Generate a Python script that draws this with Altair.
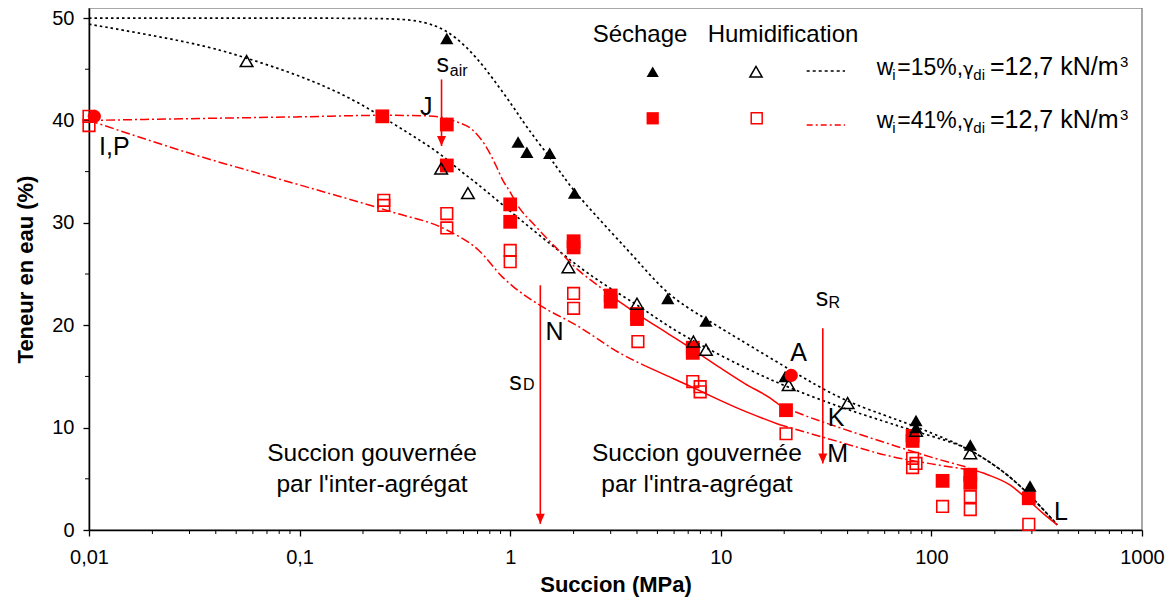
import altair as alt
import pandas as pd

FONT = "Liberation Sans"
RED = "#ff0000"

# ---------------- ticks ----------------
X_TICKS = [0.01, 0.1, 1, 10, 100, 1000]
X_MINOR = [m * d for d in [0.01, 0.1, 1, 10, 100] for m in range(2, 10)]
Y_TICKS = [0, 10, 20, 30, 40, 50]
Y_MINOR = [5, 15, 25, 35, 45]

# ---------------- measured points ----------------
# Sechage, wi=15% : filled black triangles
DRY15_X = [0.5, 1.09, 1.2, 1.54, 2.02, 5.6, 8.5, 20.2, 84.5, 84.5, 153, 294]
DRY15_Y = [48.0, 37.9, 36.9, 36.8, 32.9, 22.6, 20.4, 15.0, 10.7, 10.0, 8.3, 4.3]
# Humidification, wi=15% : open black triangles
WET15_X = [0.056, 0.47, 0.63, 1.89, 4.0, 7.41, 8.5, 21.0, 40.0, 84.5, 153]
WET15_Y = [45.8, 35.3, 32.9, 25.65, 22.1, 18.4, 17.6, 14.16, 12.4, 9.7, 7.5]
# Sechage, wi=41% : filled red squares
DRY41_X = [0.247, 0.5, 0.5, 1.0, 1.0, 2.0, 2.0, 3.0, 3.0, 4.0, 4.0, 7.36, 7.36,
           20.4, 81.4, 81.4, 113, 153, 153, 290]
DRY41_Y = [40.4, 39.6, 35.6, 31.8, 30.1, 28.2, 27.6, 22.9, 22.3, 21.1, 20.6, 17.8, 17.3,
           11.7, 9.2, 8.7, 4.8, 5.4, 4.6, 3.1]
# Humidification, wi=41% : open red squares
WET41_X = [0.01, 0.01, 0.251, 0.251, 0.5, 0.5, 1.0, 1.0, 2.0, 2.0, 4.04, 7.36, 7.98, 7.98,
           20.4, 81.4, 81.4, 84.5, 113, 153, 153, 290]
WET41_Y = [40.4, 39.5, 32.2, 31.7, 30.9, 29.5, 27.3, 26.2, 23.1, 21.65, 18.4, 14.5, 14.0, 13.5,
           9.4, 7.0, 6.1, 6.5, 2.3, 3.25, 2.0, 0.55]
# initial state I,P and point A : red circles
CIRC_X = [0.0106, 21.6]
CIRC_Y = [40.4, 15.1]

# ---------------- fitted curves ----------------
C1_X = [0.01, 0.2, 0.34, 0.445, 0.55, 0.69, 0.827, 1.03, 1.19, 1.54, 1.78, 2.02, 3.07, 4.11,
        5.6, 8.5, 11.4, 21.9, 36.6, 60, 84.5, 120, 152, 216, 289, 396]
C1_Y = [50.0, 50.0, 49.9, 49.3, 48.2, 46.2, 44.1, 41.4, 39.4, 36.4, 34.6, 33.0, 28.9, 26.1,
        22.9, 20.6, 19.0, 15.5, 12.8, 11.2, 10.1, 8.8, 7.9, 5.9, 3.6, 0.5]
C2_X = [0.01, 0.0335, 0.056, 0.1, 0.173, 0.288, 0.37, 0.47, 0.6, 0.665, 1.03, 1.71, 2.56,
        3.96, 5.5, 7.92, 13.7, 20.4, 36.6, 60, 84.5, 120, 152, 216, 289, 396]
C2_Y = [49.4, 47.5, 46.1, 44.4, 42.3, 39.5, 38.1, 36.7, 34.8, 34.2, 30.9, 27.2, 24.4,
        22.1, 20.0, 18.1, 15.6, 14.0, 12.0, 10.6, 9.6, 8.7, 7.9, 5.9, 3.6, 0.5]

RA1_X = [0.01, 0.05, 0.1, 0.25, 0.4, 0.5, 0.55, 0.66, 0.77, 0.86, 0.92, 1.0, 1.07, 1.33,
         1.7, 2.1, 2.64, 3.0]
RA1_Y = [40.0, 40.25, 40.35, 40.5, 40.45, 40.2, 39.9, 39.1, 37.4, 35.5, 34.2, 33.0, 31.9, 29.6,
         27.3, 25.4, 23.8, 22.9]
RA2_X = [3.0, 4.3, 5.5, 7.4, 10, 13, 17.1, 19]
RA2_Y = [22.9, 20.7, 19.3, 17.6, 15.8, 14.3, 12.9, 12.2]
RA3_X = [19, 23.5, 36.6, 61, 104, 150]
RA3_Y = [12.2, 11.4, 10.0, 8.5, 7.0, 6.1]

RB1_X = [0.01, 0.0335, 0.1, 0.27, 0.5, 0.71, 0.92, 1.03, 1.37, 2.1, 3.3, 4.4]
RB1_Y = [40.0, 36.5, 33.7, 31.1, 29.3, 27.3, 24.7, 23.8, 22.0, 19.9, 17.3, 16.0]
RB2_X = [4.4, 5.5, 7.4, 9.15, 12, 18.9]
RB2_Y = [16.0, 15.1, 13.9, 13.0, 11.9, 10.3]
RB3_X = [18.9, 36.6, 61, 104, 150]
RB3_Y = [10.3, 8.6, 7.3, 6.4, 5.9]

RC_X = [150, 185, 236, 289, 340, 396]
RC_Y = [6.0, 5.4, 4.4, 2.9, 1.6, 0.5]

# ---------------- arrows ----------------
ARR_X = [0.472, 1.39, 30.5]
ARR_Y1 = [44.0, 23.9, 19.7]
ARR_Y2 = [37.5, 0.6, 6.5]

# ---------------- annotations ----------------
ANN_T = ["J", "I,P", "N", "A", "K", "M", "L", "s", "s", "s"]
ANN_X = [0.399, 0.0132, 1.623, 23.4, 35.3, 35.9, 412, 0.4787, 1.06, 30.26]
ANN_Y = [41.34, 37.4, 19.37, 17.26, 10.91, 7.42, 1.79, 45.49, 14.48, 22.63]
SUB_T = ["air", "D", "R"]
SUB_X = [0.5694, 1.224, 34.61]
SUB_Y = [44.82, 14.16, 22.14]
REG_T = ["Succion gouvernée", "par l'inter-agrégat", "Succion gouvernée", "par l'intra-agrégat"]
REG_X = [0.2208, 0.2208, 7.70, 7.70]
REG_Y = [7.42, 4.39, 7.42, 4.39]

# ---------------- scales / axes ----------------
XS = alt.Scale(type="log", domain=[0.01, 1000], nice=False)
YS = alt.Scale(domain=[0, 50.98], nice=False, zero=False)
XAX = alt.Axis(values=X_TICKS, labelExpr="replace(format(datum.value, '~g'), '.', ',')",
               title="Succion (MPa)", grid=False, tickSize=6, labelPadding=11,
               titlePadding=7, labelFlush=False)
YAX = alt.Axis(values=Y_TICKS, title="Teneur en eau (%)", grid=False, tickSize=6,
               labelPadding=9, titlePadding=14)


def X():
    return alt.X("x:Q", scale=XS, axis=XAX)


def Y():
    return alt.Y("y:Q", scale=YS, axis=YAX)


def pts(xs, ys):
    return pd.DataFrame({"x": xs, "y": ys})


def segs(d):
    frames = []
    for name, (xs, ys) in d.items():
        frames.append(pd.DataFrame({"x": xs, "y": ys, "seg": name, "i": list(range(len(xs)))}))
    return pd.concat(frames, ignore_index=True)


def lines(df, color, dash, width, interp="monotone"):
    kw = dict(color=color, strokeWidth=width, interpolate=interp)
    if dash:
        kw["strokeDash"] = dash
    return alt.Chart(df).mark_line(**kw).encode(x=X(), y=Y(), detail="seg:N", order="i:Q")


layers = []
# minor ticks
layers.append(alt.Chart(pd.DataFrame({"x": X_MINOR})).mark_rule(color="black", strokeWidth=1)
              .encode(x=X(), y=alt.value(522), y2=alt.value(526)))
layers.append(alt.Chart(pd.DataFrame({"y": Y_MINOR})).mark_rule(color="black", strokeWidth=1)
              .encode(y=Y(), x=alt.value(0), x2=alt.value(-4)))

layers.append(lines(segs({"c1": (C1_X, C1_Y), "c2": (C2_X, C2_Y)}), "black", [2.5, 3], 1.7,
                    "basis"))
layers.append(lines(segs({"a1": (RA1_X, RA1_Y), "a3": (RA3_X, RA3_Y),
                          "b1": (RB1_X, RB1_Y), "b3": (RB3_X, RB3_Y)}), RED, [9, 3, 2, 3], 1.5))
layers.append(lines(segs({"a2": (RA2_X, RA2_Y), "b2": (RB2_X, RB2_Y), "c": (RC_X, RC_Y)}),
                    RED, None, 1.5))

# markers
layers.append(alt.Chart(pts(WET41_X, WET41_Y)).mark_point(
    shape="square", filled=False, size=135, strokeWidth=1.6, color=RED, opacity=1)
    .encode(x=X(), y=Y()))
layers.append(alt.Chart(pts(DRY41_X, DRY41_Y)).mark_point(
    shape="square", filled=True, size=190, color=RED, opacity=1).encode(x=X(), y=Y()))
layers.append(alt.Chart(pts(WET15_X, WET15_Y)).mark_point(
    shape="triangle-up", filled=False, size=160, strokeWidth=1.5, color="black", opacity=1)
    .encode(x=X(), y=Y()))
layers.append(alt.Chart(pts(DRY15_X, DRY15_Y)).mark_point(
    shape="triangle-up", filled=True, size=175, color="black", opacity=1).encode(x=X(), y=Y()))
layers.append(alt.Chart(pts(CIRC_X, CIRC_Y)).mark_point(
    shape="circle", filled=True, size=175, color=RED, opacity=1).encode(x=X(), y=Y()))

# arrows
arr = pd.DataFrame({"x": ARR_X, "y": ARR_Y1, "y2": ARR_Y2})
layers.append(alt.Chart(arr).mark_rule(color=RED, strokeWidth=1.6)
              .encode(x=X(), y=Y(), y2="y2:Q"))
layers.append(alt.Chart(pd.DataFrame({"x": ARR_X, "y": ARR_Y2})).mark_point(
    shape="M-0.9,-2L0.9,-2L0,0Z", filled=True, size=100, color=RED, opacity=1)
    .encode(x=X(), y=Y()))

# annotations
layers.append(alt.Chart(pd.DataFrame({"x": ANN_X, "y": ANN_Y, "t": ANN_T})).mark_text(
    fontSize=25, color="black", align="center", baseline="middle").encode(x=X(), y=Y(), text="t:N"))
layers.append(alt.Chart(pd.DataFrame({"x": SUB_X, "y": SUB_Y, "t": SUB_T})).mark_text(
    fontSize=16, color="black", align="center", baseline="middle").encode(x=X(), y=Y(), text="t:N"))
layers.append(alt.Chart(pd.DataFrame({"x": REG_X, "y": REG_Y, "t": REG_T})).mark_text(
    fontSize=24.5, color="black", align="center", baseline="middle").encode(x=X(), y=Y(), text="t:N"))

# ---------------- legend (pixel layout) ----------------
one = pd.DataFrame({"a": [0]})


def ltext(txt, px, py, size, align="left", font=FONT):
    return alt.Chart(one).mark_text(text=txt, fontSize=size, color="black", align=align, font=font,
                                    baseline="alphabetic").encode(x=alt.value(px), y=alt.value(py))


layers.append(ltext("Séchage", 551, 33.7, 24, "center"))
layers.append(ltext("Humidification", 694, 33.7, 24, "center"))
layers.append(alt.Chart(one).mark_point(shape="triangle-up", filled=True, size=150, color="black",
                                        opacity=1).encode(x=alt.value(563.7), y=alt.value(63.7)))
layers.append(alt.Chart(one).mark_point(shape="triangle-up", filled=False, size=150, strokeWidth=1.5,
                                        color="black", opacity=1).encode(x=alt.value(667), y=alt.value(63.7)))
layers.append(alt.Chart(one).mark_point(shape="square", filled=True, size=150, color=RED,
                                        opacity=1).encode(x=alt.value(563.7), y=alt.value(110.3)))
layers.append(alt.Chart(one).mark_point(shape="square", filled=False, size=120, strokeWidth=1.5,
                                        color=RED, opacity=1).encode(x=alt.value(667.7), y=alt.value(110.3)))
layers.append(alt.Chart(one).mark_rule(color="black", strokeDash=[3, 3], strokeWidth=1.3)
              .encode(x=alt.value(717.7), x2=alt.value(756), y=alt.value(63)))
layers.append(alt.Chart(one).mark_rule(color=RED, strokeDash=[6, 3, 2, 3], strokeWidth=1.3)
              .encode(x=alt.value(717.7), x2=alt.value(756), y=alt.value(117)))
for base, pct in [(67, "=15%,"), (120.3, "=41%,")]:
    layers.append(ltext("w", 787.7, base, 23))
    layers.append(ltext("i", 803.3, base + 5, 15))
    layers.append(ltext(pct, 808.3, base, 23))
    layers.append(ltext("γ", 874, base, 18, font="DejaVu Sans"))
    layers.append(ltext("di", 884.3, base + 5, 15))
    layers.append(ltext("=12,7 kN/m", 901, base, 25))
    layers.append(ltext("3", 1031, base - 8.5, 15))

chart = alt.layer(*layers).properties(
    width=1053, height=522,
    padding={"left": 81, "top": 0, "right": 24, "bottom": 68},
    autosize=alt.AutoSizeParams(type="none"),
).configure(font=FONT).configure_view(
    stroke="#8c8c8c", strokeWidth=1.5
).configure_axis(
    domainColor="black", domainWidth=1.5, tickColor="black", tickWidth=1.3,
    labelColor="black", titleColor="black", labelFont=FONT, titleFont=FONT,
    labelFontSize=20, titleFontSize=22, titleFontWeight="bold",
)

chart.save("out.html", embed_options={"renderer": "svg", "actions": False})
